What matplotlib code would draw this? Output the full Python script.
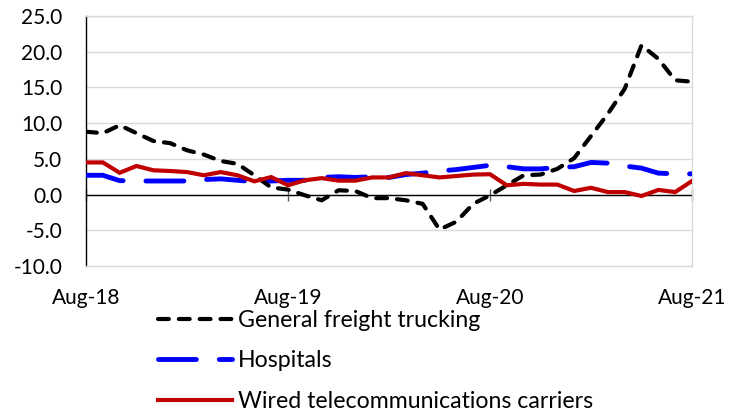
import numpy as np
import pandas as pd
import matplotlib
matplotlib.use("Agg")
import matplotlib.pyplot as plt
from matplotlib.ticker import FixedLocator, FuncFormatter

plt.rcParams['font.family'] = ['Lato', 'DejaVu Sans']

# Monthly data, Aug-2018 .. Aug-2021
months = pd.date_range("2018-08-01", periods=37, freq="MS")
tick_labels = ["Aug-18", "Aug-19", "Aug-20", "Aug-21"]

trucking = [8.8, 8.6, 9.7, 8.6, 7.5, 7.2, 6.2, 5.6, 4.7, 4.3, 2.7, 1.0,
            0.7, -0.1, -0.8, 0.6, 0.5, -0.5, -0.5, -0.8, -1.3, -4.9, -3.8, -1.3,
            -0.1, 1.3, 2.7, 2.8, 3.6, 5.1, 8.2, 11.3, 14.8, 20.9, 19.0, 16.0, 15.8]
hospitals = [2.7, 2.7, 1.95, 1.9, 1.9, 1.9, 1.9, 2.1, 2.2, 2.0, 1.8, 1.9,
             2.0, 2.0, 2.4, 2.5, 2.4, 2.5, 2.4, 2.8, 3.0, 3.3, 3.5, 3.8,
             4.1, 3.9, 3.6, 3.6, 3.8, 3.9, 4.5, 4.4, 4.0, 3.7, 3.0, 2.9, 2.9]
wired = [4.5, 4.5, 3.05, 4.0, 3.4, 3.3, 3.15, 2.7, 3.15, 2.7, 1.85, 2.45,
         1.3, 2.0, 2.3, 1.95, 1.95, 2.4, 2.4, 3.0, 2.7, 2.4, 2.6, 2.8,
         2.85, 1.3, 1.5, 1.4, 1.4, 0.5, 0.95, 0.35, 0.35, -0.2, 0.65, 0.35, 1.9]

W, H = 739, 413
fig = plt.figure(figsize=(W / 100, H / 100), dpi=100)
ax = fig.add_axes([86 / W, 1 - 266 / H, (692 - 86) / W, (266 - 16) / H])

x = np.arange(len(months))
l1, = ax.plot(x, trucking, color="black", lw=3.0, dashes=(2.6, 2.4),
              dash_capstyle="round", solid_capstyle="round", zorder=4,
              label="General freight trucking")
l2, = ax.plot(x, hospitals, color="#0000FF", lw=3.5, dashes=(7.8, 4.7),
              dash_capstyle="round", zorder=3, label="Hospitals")
l3, = ax.plot(x, wired, color="#C00000", lw=3.0, zorder=5,
              solid_joinstyle="miter", label="Wired telecommunications carriers")

ax.set_xlim(0, 36)
ax.set_ylim(-10, 25)
ax.yaxis.set_major_locator(FixedLocator(np.arange(-10, 26, 5)))
ax.yaxis.set_major_formatter(FuncFormatter(lambda v, p: f"{v:.1f}"))
ax.grid(axis="y", color="#D9D9D9", lw=1.0, zorder=0)
ax.set_axisbelow(True)

tick_pos = [i for i, m in enumerate(months) if m.month == 8]
ax.set_xticks(tick_pos)
ax.set_xticklabels(tick_labels)
ax.tick_params(axis="x", length=0, pad=16, labelsize=15)
ax.tick_params(axis="y", length=0, pad=17, labelsize=15)

for s in ["top", "right", "bottom"]:
    ax.spines[s].set_color("#D9D9D9")
    ax.spines[s].set_linewidth(1.0)
ax.spines["left"].set_color("black")
ax.spines["left"].set_linewidth(1.0)

# horizontal axis line at zero with cross tick marks
ax.axhline(0, color="black", lw=1.0, zorder=2)
frac0 = (0 - ax.get_ylim()[0]) / (ax.get_ylim()[1] - ax.get_ylim()[0])
sec = ax.secondary_xaxis(frac0)
sec.set_xticks(tick_pos)
sec.tick_params(axis="x", direction="inout", length=8, width=1.0,
                color="#595959", labelbottom=False, labeltop=False)
sec.spines["bottom"].set_visible(False)
sec.spines["top"].set_visible(False)

leg = fig.legend(handles=[l1, l2, l3], loc="upper left",
                 bbox_to_anchor=(158 / W, 1 - 310 / H), frameon=False,
                 fontsize=16.7, handlelength=3.19, handletextpad=0.26,
                 labelspacing=0.84, borderpad=0, borderaxespad=0)

fig.savefig("out.png", dpi=100)
